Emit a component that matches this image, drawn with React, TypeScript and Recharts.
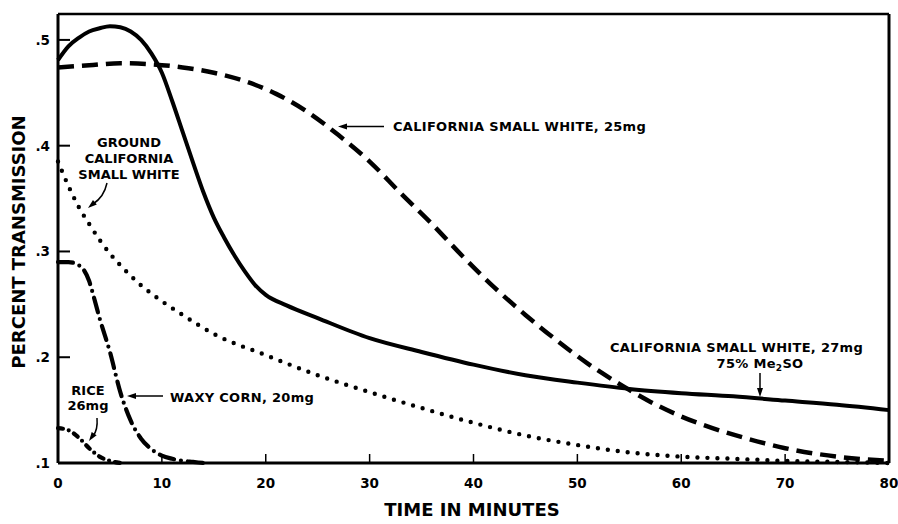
import { LineChart, Line, XAxis, YAxis, ReferenceLine } from 'recharts';

// time in minutes / percent transmission
const X_TICKS = [0, 10, 20, 30, 40, 50, 60, 70, 80];
const Y_TICKS = [0.1, 0.2, 0.3, 0.4, 0.5];

const CSW27_T = [0, 1, 2, 3, 4, 5, 6, 7, 8, 9, 10, 11, 12, 13, 14, 15, 16, 17, 18, 19, 20, 22, 25, 30, 35, 40, 45, 50, 55, 60, 65, 70, 75, 80];
const CSW27_V = [0.481, 0.494, 0.502, 0.508, 0.511, 0.513, 0.512, 0.508, 0.5, 0.487, 0.469, 0.442, 0.413, 0.384, 0.356, 0.332, 0.313, 0.296, 0.281, 0.268, 0.259, 0.249, 0.237, 0.218, 0.205, 0.193, 0.183, 0.176, 0.17, 0.166, 0.163, 0.159, 0.155, 0.15];

const CSW25_T = [0, 3, 6, 9, 12, 15, 18, 21, 24, 27, 30, 33, 36, 39, 42, 45, 48, 51, 54, 57, 60, 63, 66, 70, 75, 80];
const CSW25_V = [0.474, 0.476, 0.478, 0.477, 0.474, 0.469, 0.461, 0.449, 0.432, 0.41, 0.385, 0.355, 0.326, 0.295, 0.266, 0.24, 0.216, 0.194, 0.175, 0.158, 0.144, 0.133, 0.124, 0.114, 0.106, 0.102];

const GROUND_T = [0, 1, 2, 3, 4, 5, 6, 8, 10, 12, 15, 20, 25, 30, 35, 40, 45, 50, 55, 60, 65, 70, 75, 80];
const GROUND_V = [0.385, 0.362, 0.342, 0.326, 0.311, 0.298, 0.287, 0.268, 0.253, 0.24, 0.222, 0.202, 0.183, 0.167, 0.152, 0.138, 0.126, 0.117, 0.11, 0.106, 0.104, 0.102, 0.101, 0.1];

const WAXY_T = [0, 1, 2, 3, 3.5, 4, 5, 6, 7, 8, 9, 10, 11, 12, 13, 14];
const WAXY_V = [0.29, 0.29, 0.287, 0.272, 0.255, 0.237, 0.205, 0.167, 0.14, 0.123, 0.113, 0.107, 0.104, 0.102, 0.101, 0.1];

const RICE_T = [0, 1, 2, 3, 4, 5, 6];
const RICE_V = [0.133, 0.131, 0.124, 0.114, 0.106, 0.102, 0.1];

const zip = (ts: number[], vs: number[]) => ts.map((t, i) => ({ t, v: vs[i] }));

const FONT = '"DejaVu Sans", sans-serif';

function YTick({ x, y, payload }: any) {
  return (
    <g>
      <line x1={x} x2={x + 12} y1={y} y2={y} stroke="#000" strokeWidth={2} />
      <text x={x - 8} y={y} dy="0.36em" textAnchor="end" fontSize={13.5} fontWeight="bold" fontFamily={FONT} fill="#000">
        {'.' + Math.round(payload.value * 10)}
      </text>
    </g>
  );
}

function XTick({ x, y, payload }: any) {
  return (
    <g>
      <line x1={x} x2={x} y1={y} y2={y - 9} stroke="#000" strokeWidth={1.5} />
      <text x={x} y={y + 25} textAnchor="middle" fontSize={13.5} fontWeight="bold" fontFamily={FONT} fill="#000">
        {payload.value}
      </text>
    </g>
  );
}

function Head({ x, y, angle }: { x: number; y: number; angle: number }) {
  return <polygon points="0,0 9,-3 9,3" transform={`translate(${x},${y}) rotate(${angle})`} fill="#000" />;
}

const txt = { fontFamily: FONT, fontWeight: 'bold' as const, fontSize: 13, fill: '#000' };

export default function App() {
  return (
    <div style={{ position: 'absolute', left: 0, top: 0, width: 898, height: 524, background: '#fff' }}>
      <LineChart width={898} height={524} margin={{ top: 14, right: 9, bottom: 0, left: 8 }} style={{ fontFamily: FONT }}>
        <XAxis
          dataKey="t"
          type="number"
          domain={[0, 80]}
          ticks={X_TICKS}
          interval={0}
          height={61}
          tickSize={0}
          tickMargin={0}
          tick={<XTick />}
          axisLine={{ stroke: '#000', strokeWidth: 3 }}
        />
        <YAxis
          type="number"
          domain={[0.1, 0.5245]}
          ticks={Y_TICKS}
          interval={0}
          width={50}
          tickSize={0}
          tickMargin={0}
          tick={<YTick />}
          axisLine={{ stroke: '#000', strokeWidth: 3 }}
        />
        <ReferenceLine y={0.5245} stroke="#000" strokeWidth={2.5} />
        <ReferenceLine x={80} stroke="#000" strokeWidth={3} />
        <Line data={zip(CSW27_T, CSW27_V)} dataKey="v" type="monotone" stroke="#000" strokeWidth={4} dot={false} isAnimationActive={false} />
        <Line data={zip(CSW25_T, CSW25_V)} dataKey="v" type="monotone" stroke="#000" strokeWidth={4.5} strokeDasharray="16 8" dot={false} isAnimationActive={false} />
        <Line data={zip(GROUND_T, GROUND_V)} dataKey="v" type="monotone" stroke="#000" strokeWidth={4.4} strokeDasharray="0 10" strokeLinecap="round" dot={false} isAnimationActive={false} />
        <Line data={zip(WAXY_T, WAXY_V)} dataKey="v" type="monotone" stroke="#000" strokeWidth={4.2} strokeDasharray="15 7 0 7" strokeLinecap="round" dot={false} isAnimationActive={false} />
        <Line data={zip(RICE_T, RICE_V)} dataKey="v" type="monotone" stroke="#000" strokeWidth={4.2} strokeDasharray="5 6 0 6" strokeLinecap="round" dot={false} isAnimationActive={false} />
      </LineChart>
      <svg width={898} height={524} style={{ position: 'absolute', left: 0, top: 0, pointerEvents: 'none' }}>
        {/* axis titles */}
        <text x={472} y={516} textAnchor="middle" {...txt} fontSize={18}>TIME IN MINUTES</text>
        <text transform="translate(25,242) rotate(-90)" textAnchor="middle" {...txt} fontSize={18}>PERCENT TRANSMISSION</text>

        {/* California small white 25mg */}
        <text x={393} y={131} {...txt} letterSpacing={0.3}>CALIFORNIA SMALL WHITE, 25mg</text>
        <line x1={384} x2={346} y1={126.5} y2={126.5} stroke="#000" strokeWidth={1.5} />
        <Head x={338} y={126.5} angle={0} />

        {/* California small white 27mg */}
        <text x={610} y={352} {...txt} letterSpacing={0.3}>CALIFORNIA SMALL WHITE, 27mg</text>
        <text x={760} y={368} textAnchor="middle" {...txt} letterSpacing={0.3}>
          75% Me<tspan fontSize={9} dy={3}>2</tspan><tspan dy={-3}>SO</tspan>
        </text>
        <line x1={760} x2={760} y1={373} y2={389} stroke="#000" strokeWidth={1.5} />
        <Head x={760} y={397} angle={-90} />

        {/* ground california small white */}
        <text x={129} y={147} textAnchor="middle" {...txt}>GROUND</text>
        <text x={129} y={163} textAnchor="middle" {...txt}>CALIFORNIA</text>
        <text x={129} y={178.5} textAnchor="middle" {...txt}>SMALL WHITE</text>
        <path d="M107,183 Q104,197 93,204" fill="none" stroke="#000" strokeWidth={1.5} />
        <Head x={88} y={208} angle={-40} />

        {/* rice */}
        <text x={88} y={395} textAnchor="middle" {...txt}>RICE</text>
        <text x={88} y={410} textAnchor="middle" {...txt}>26mg</text>
        <path d="M97,418 Q98,430 93,436" fill="none" stroke="#000" strokeWidth={1.5} />
        <Head x={89} y={441} angle={-55} />

        {/* waxy corn */}
        <text x={170} y={402} {...txt} letterSpacing={0.3}>WAXY CORN, 20mg</text>
        <line x1={163} x2={135} y1={396} y2={396} stroke="#000" strokeWidth={1.5} />
        <Head x={127} y={396} angle={0} />
      </svg>
    </div>
  );
}
